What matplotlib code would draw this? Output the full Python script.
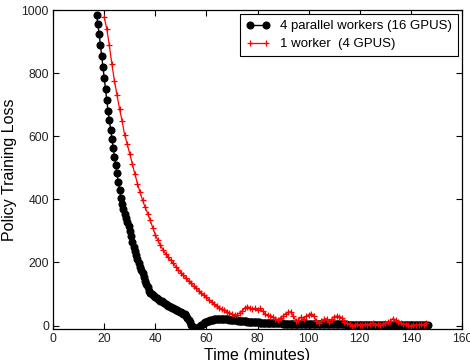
import matplotlib
matplotlib.use("Agg")
import matplotlib.pyplot as plt
import numpy as np

plt.rcParams["font.family"] = ["Liberation Sans", "DejaVu Sans"]

# 4 parallel workers: loss sampled every 0.5 min starting at 17 min
parallel_start = 17.0
parallel_step = 0.5
parallel_loss = [
    985, 955, 925, 890, 855, 820, 785, 750, 715, 680,
    650, 620, 592, 563, 535, 508, 482, 455, 430, 405,
    385, 368, 352, 340, 327, 314, 300, 283, 266, 250,
    235, 222, 210, 197, 185, 176, 165, 153, 142, 132,
    122, 110, 104, 100, 96, 93, 90, 87, 84, 82,
    79, 77, 74, 71, 68, 66, 63, 61, 59, 57,
    55, 52, 50, 48, 46, 44, 42, 40, 38, 35,
    30, 24, 17, 10, 3, -3, -7, -9, -9, -7,
    -4, -1, 2, 5, 8, 10, 12, 14, 15, 17,
    18, 19, 20, 21, 21, 22, 22, 22, 22, 22,
    21, 21, 20, 20, 19, 19, 18, 18, 17, 16,
    16, 15, 15, 14, 14, 13, 13, 13, 12, 12,
    12, 11, 11, 11, 10, 10, 10, 10, 9, 9,
    9, 9, 9, 8, 8, 8, 8, 8, 8, 7,
    7, 7, 7, 7, 7, 7, 6, 6, 6, 6,
    6, 6, 6, 6, 6, 6, 5, 5, 5, 5,
    5, 5, 5, 5, 5, 5, 5, 5, 5, 5,
    5, 5, 4, 4, 4, 4, 4, 4, 4, 4,
    4, 4, 4, 4, 4, 4, 4, 4, 4, 4,
    4, 4, 4, 4, 4, 4, 3, 3, 3, 3,
    3, 3, 3, 3, 3, 3, 3, 3, 3, 3,
    3, 3, 3, 3, 3, 3, 3, 3, 3, 3,
    3, 3, 3, 3, 3, 3, 3, 3, 3, 3,
    3, 3, 3, 3, 3, 3, 3, 3, 3, 3,
    3, 3, 3, 3, 3, 3, 3, 3, 3, 3,
    3, 3, 3, 3, 3, 3, 3, 3, 3, 3,
]

# 1 worker: loss sampled every minute starting at 20 min
single_start = 20.0
single_step = 1.0
single_loss = [
    978, 940, 888, 828, 776, 731, 686, 648, 604, 575,
    544, 512, 480, 450, 423, 397, 375, 355, 333, 310,
    287, 270, 254, 240, 228, 217, 207, 198, 186, 177,
    168, 160, 150, 142, 134, 126, 118, 111, 103, 96,
    89, 82, 75, 68, 62, 57, 52, 48, 44, 40,
    35, 32, 34, 40, 46, 55, 60, 56, 52, 55,
    50, 54, 45, 36, 32, 30, 28, 22, 18, 25,
    30, 38, 42, 44, 30, 15, 18, 27, 22, 30,
    34, 38, 30, 15, 8, 14, 20, 22, 12, 20,
    28, 30, 28, 25, 12, 8, 4, -3, 2, 4,
    2, 2, 5, 3, 6, 8, 3, 4, 2, 5,
    8, 10, 15, 22, 18, 10, 8, 4, 5, 2,
    -2, 3, 2, 1, 4, 2, 8,
]

parallel_t = parallel_start + parallel_step * np.arange(len(parallel_loss))
single_t = single_start + single_step * np.arange(len(single_loss))

fig = plt.figure(figsize=(4.7, 3.6), dpi=100)
ax = fig.add_axes([0.113, 0.087, 0.870, 0.885])

ax.plot(parallel_t, parallel_loss, color="black", marker="o", markersize=4.8,
        linewidth=1.0, label="4 parallel workers (16 GPUS)")
ax.plot(single_t, single_loss, color="red", marker="+", markersize=4.5,
        markeredgewidth=0.9, linewidth=0.9, label="1 worker  (4 GPUS)")

ax.set_xlim(0, 160)
ax.set_ylim(-10, 1000)
ax.set_xticks(np.arange(0, 161, 20))
ax.set_yticks(np.arange(0, 1001, 200))
ax.tick_params(direction="in", top=True, right=True, length=4, labelsize=8.7,
               colors="black", labelcolor="#222222", pad=3)
for s in ax.spines.values():
    s.set_linewidth(0.9)

ax.set_xlabel("Time (minutes)", fontsize=11.5, labelpad=2)
ax.set_ylabel("Policy Training Loss", fontsize=11.5, labelpad=3)

leg = ax.legend(loc="upper right", numpoints=2, fontsize=9.5, fancybox=False,
                framealpha=1, edgecolor="black", borderaxespad=0.3,
                handlelength=1.8, labelspacing=0.45, borderpad=0.45)
leg.get_frame().set_linewidth(0.8)

fig.savefig("out.png", dpi=100)
